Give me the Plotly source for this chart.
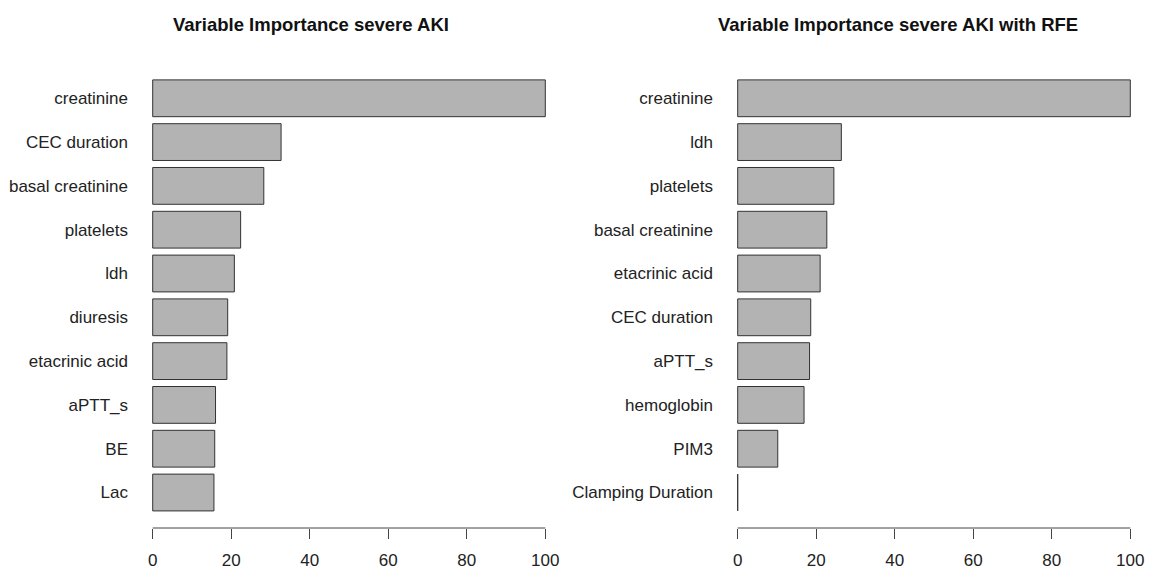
import plotly.graph_objects as go

# Variable importance (scaled 0-100), most important first
vars_full = ["creatinine", "CEC duration", "basal creatinine", "platelets", "ldh",
             "diuresis", "etacrinic acid", "aPTT_s", "BE", "Lac"]
imp_full = [100, 32.7, 28.3, 22.4, 20.8, 19.1, 18.9, 16.0, 15.8, 15.6]

vars_rfe = ["creatinine", "ldh", "platelets", "basal creatinine", "etacrinic acid",
            "CEC duration", "aPTT_s", "hemoglobin", "PIM3", "Clamping Duration"]
imp_rfe = [100, 26.4, 24.5, 22.7, 21.0, 18.6, 18.3, 16.9, 10.2, 0]

titles = ["Variable Importance severe AKI", "Variable Importance severe AKI with RFE"]
x_ticks = [0, 20, 40, 60, 80, 100]

W, H = 1154, 569
FONT = "Liberation Sans, Arial, Helvetica, sans-serif"
BAR_FILL = "#B3B3B3"
EDGE = "#333333"


def px_x(p):
    return p / W


def px_y(p):
    return 1 - p / H


fig = go.Figure()

panels = [
    (vars_full, imp_full, "x", "y", (137, 561), 311),
    (vars_rfe, imp_rfe, "x2", "y2", (722, 1146), 898),
]

for i, (names, vals, xa, ya, (x0, x1), tx) in enumerate(panels):
    fig.add_trace(go.Bar(
        x=vals, y=names, orientation="h", xaxis=xa, yaxis=ya,
        width=0.84,
        marker=dict(color=BAR_FILL, line=dict(color=EDGE, width=1)),
        showlegend=False, hoverinfo="x+y",
    ))
    sfx = "" if i == 0 else "2"
    fig.update_layout(**{
        f"xaxis{sfx}": dict(
            domain=[px_x(x0), px_x(x1)], range=[-4, 104], anchor=f"y{sfx}",
            tickvals=x_ticks, ticks="outside", ticklen=10, tickwidth=1,
            tickcolor="#444444", showgrid=False, zeroline=False, showline=False,
            ticklabelstandoff=7, automargin=False,
            tickfont=dict(family=FONT, size=17, color="#222222"),
        ),
        f"yaxis{sfx}": dict(
            domain=[px_y(528), px_y(62.8)], anchor=f"x{sfx}",
            type="category", range=[len(names) - 1 + 0.81, -0.81],
            showgrid=False, zeroline=False, showline=False, ticks="",
            ticklabelstandoff=8, automargin=False,
            tickfont=dict(family=FONT, size=17, color="#222222"),
        ),
    })
    # bottom axis line spanning the tick range only
    fig.add_shape(type="line", xref=xa, yref="paper",
                  x0=x_ticks[0], x1=x_ticks[-1], y0=px_y(528), y1=px_y(528),
                  line=dict(color="#444444", width=1))
    fig.add_annotation(text=f"<b>{titles[i]}</b>", xref="paper", yref="paper",
                       x=px_x(tx), y=px_y(24), showarrow=False,
                       xanchor="center", yanchor="middle",
                       font=dict(family=FONT, size=18.5, color="#111111"))

fig.update_layout(
    width=W, height=H, margin=dict(l=0, r=0, t=0, b=0, autoexpand=False),
    paper_bgcolor="white", plot_bgcolor="white",
    bargap=0.16,
)

fig.write_html("out.html")
